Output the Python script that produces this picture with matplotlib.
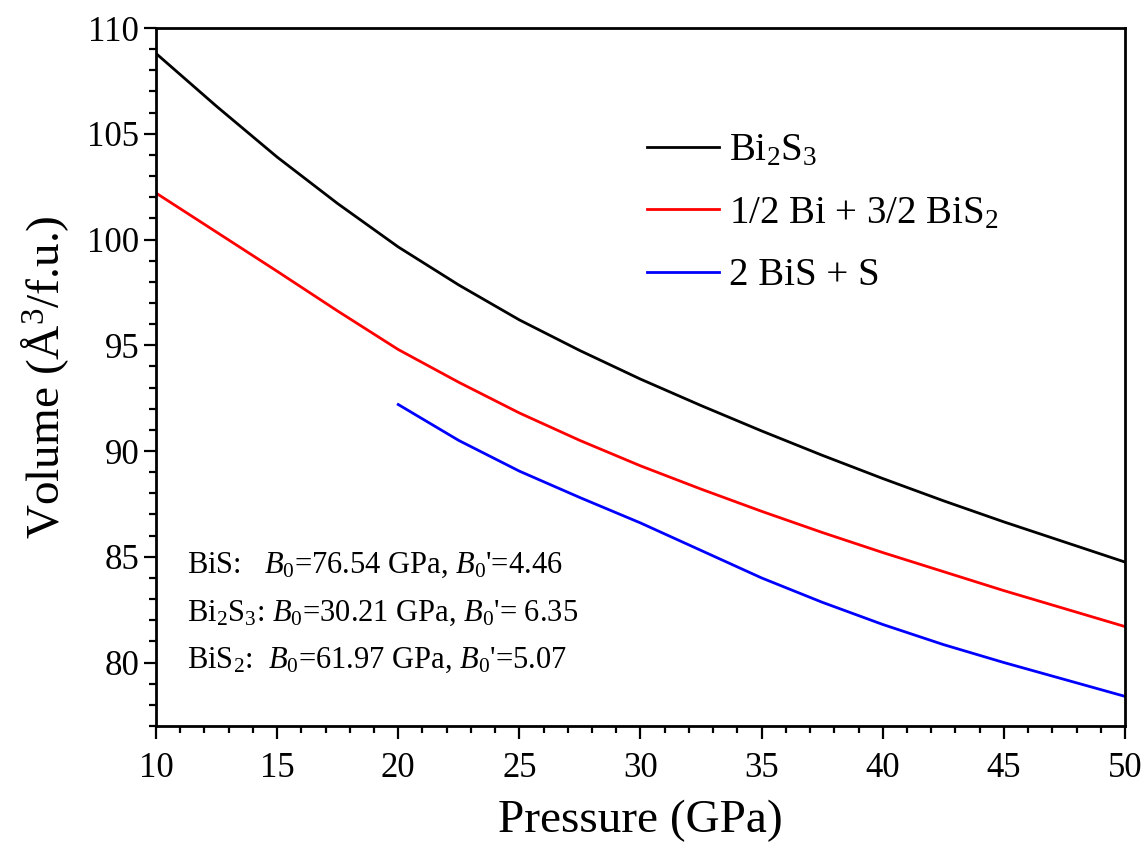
import matplotlib
matplotlib.use("Agg")
import matplotlib.pyplot as plt
from matplotlib.ticker import MultipleLocator

# EOS volumes vs pressure (GPa, A^3 per formula unit)
p_main = [10, 12.5, 15, 17.5, 20, 22.5, 25, 27.5, 30, 32.5, 35, 37.5, 40, 42.5, 45, 47.5, 50]
v_bi2s3 = [108.8, 106.3, 103.9, 101.7, 99.65, 97.85, 96.2, 94.75, 93.4, 92.15,
           90.95, 89.8, 88.7, 87.65, 86.65, 85.7, 84.75]
v_bi_bis2 = [102.2, 100.35, 98.5, 96.62, 94.8, 93.25, 91.8, 90.5, 89.3, 88.2,
             87.15, 86.15, 85.2, 84.3, 83.4, 82.55, 81.7]

p_bis = [20, 22.5, 25, 27.5, 30, 32.5, 35, 37.5, 40, 42.5, 45, 47.5, 50]
v_bis_s = [92.2, 90.5, 89.05, 87.8, 86.6, 85.3, 84.0, 82.85, 81.8, 80.85, 80.0, 79.2, 78.4]

labels = [r'Bi$_2$S$_3$', r'1/2 Bi + 3/2 BiS$_2$', r'2 BiS + S']

fit_lines = [
    r'BiS:   $\mathit{B}_\mathrm{0}$=76.54 GPa, $\mathit{B}_\mathrm{0}$'"'"'=4.46',
    r'Bi$_2$S$_3$: $\mathit{B}_\mathrm{0}$=30.21 GPa, $\mathit{B}_\mathrm{0}$'"'"'= 6.35',
    r'BiS$_2$:  $\mathit{B}_\mathrm{0}$=61.97 GPa, $\mathit{B}_\mathrm{0}$'"'"'=5.07',
]

plt.rcParams['font.family'] = ['Liberation Serif', 'DejaVu Serif']
plt.rcParams['mathtext.fontset'] = 'custom'
plt.rcParams['mathtext.rm'] = 'Liberation Serif'
plt.rcParams['mathtext.it'] = 'Liberation Serif:italic'
plt.rcParams['mathtext.bf'] = 'Liberation Serif:bold'

fig = plt.figure(figsize=(11.46, 8.52), dpi=100)
ax = fig.add_axes([0.1361, 0.1479, 0.8456, 0.8192])

ax.plot(p_main, v_bi2s3, color='black', lw=2.0, label=labels[0])
ax.plot(p_main, v_bi_bis2, color='#ff0000', lw=2.0, label=labels[1])
ax.plot(p_bis, v_bis_s, color='#0000ff', lw=2.0, label=labels[2])

ax.set_xlim(10, 50)
ax.set_ylim(77, 110)
ax.xaxis.set_major_locator(MultipleLocator(5))
ax.xaxis.set_minor_locator(MultipleLocator(1))
ax.yaxis.set_major_locator(MultipleLocator(5))
ax.yaxis.set_minor_locator(MultipleLocator(1))

for s in ax.spines.values():
    s.set_linewidth(2.0)
ax.tick_params(which='both', direction='out', top=False, right=False, width=1.6)
ax.tick_params(which='major', length=9)
ax.tick_params(which='minor', length=5)
ax.tick_params(axis='x', which='major', labelsize=25, pad=10)
ax.tick_params(axis='y', which='major', labelsize=25, pad=3)

ax.set_xlabel('Pressure (GPa)', fontsize=34, labelpad=10)
ax.set_ylabel(r'Volume (Å$^3$/f.u.)', fontsize=34, labelpad=12)

ax.legend(loc='upper left', bbox_to_anchor=(0.487, 0.878), frameon=False,
          fontsize=28, handlelength=1.85, handletextpad=0.25, labelspacing=0.65,
          borderpad=0)

for i, txt in enumerate(fit_lines):
    ax.text(0.032, 0.219 - i * 0.068, txt, transform=ax.transAxes,
            fontsize=22, va='baseline', ha='left')

plt.savefig('out.png', dpi=100, facecolor='white')
plt.close()
